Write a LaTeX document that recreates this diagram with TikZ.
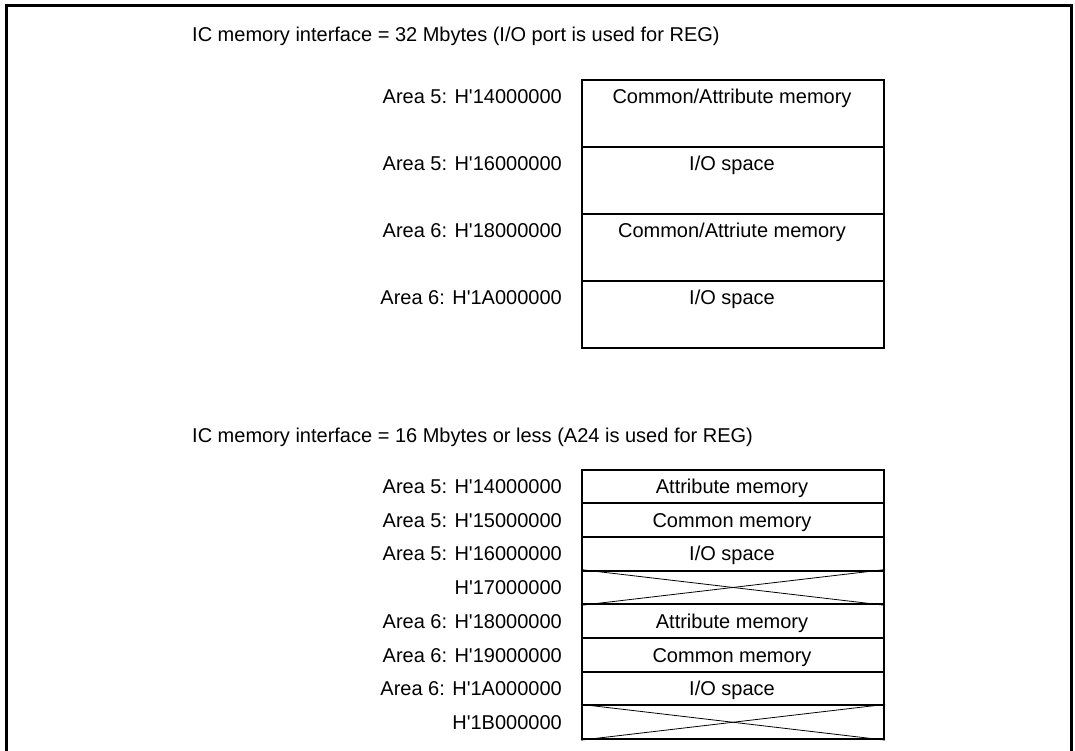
\documentclass[tikz,border=0pt]{standalone}
\usepackage{fontspec}
\setmainfont{Liberation Sans}
\newcommand{\hq}{H\textquotesingle}
\begin{document}
\begin{tikzpicture}[x=1pt,y=-1pt,
  every node/.style={font=\fontsize{20}{24}\selectfont, inner sep=0pt},
  frameline/.style={line width=3pt},
  bigcell/.style={draw, line width=2pt, minimum width=302pt, minimum height=67pt, anchor=north west},
  smallcell/.style={draw, line width=2pt, minimum width=302pt, minimum height=33.7pt, anchor=north west},
  celltext/.style={anchor=base},
  addr/.style={anchor=base east},
  title/.style={anchor=base west},
  xline/.style={line width=0.8pt}
]
\useasboundingbox (0,0) rectangle (1075,751);
% outer frame
\coordinate (fbl) at (6,760);
\coordinate (ftl) at (6,5.5);
\coordinate (ftr) at (1071,5.5);
\coordinate (fbr) at (1071,760);
\draw[frameline] (fbl) -- (ftl) -- (ftr) -- (fbr);

% titles
\node[title] (title1) at (192,42) {IC memory interface = 32 Mbytes (I/O port is used for REG)};
\node[title] (title2) at (192,442) {IC memory interface = 16 Mbytes or less (A24 is used for REG)};

% upper map
\node[bigcell] (u1) at (581,79) {};
\node[bigcell] (u2) at (581,146) {};
\node[bigcell] (u3) at (581,213) {};
\node[bigcell] (u4) at (581,280) {};
\node[celltext] (ut1) at (732,103.5) {Common/Attribute memory};
\node[celltext] (ut2) at (732,170.5) {I/O space};
\node[celltext] (ut3) at (732,237.5) {Common/Attriute memory};
\node[celltext] (ut4) at (732,304.5) {I/O space};
\node[addr] (ua1) at (562,103.5) {Area 5: \hq14000000};
\node[addr] (ua2) at (562,170.5) {Area 5: \hq16000000};
\node[addr] (ua3) at (562,237.5) {Area 6: \hq18000000};
\node[addr] (ua4) at (562,304.5) {Area 6: \hq1A000000};

% lower map
\foreach \i/\t/\a in {
  0/{Attribute memory}/{Area 5: \hq14000000},
  1/{Common memory}/{Area 5: \hq15000000},
  2/{I/O space}/{Area 5: \hq16000000},
  3/{}/{\hq17000000},
  4/{Attribute memory}/{Area 6: \hq18000000},
  5/{Common memory}/{Area 6: \hq19000000},
  6/{I/O space}/{Area 6: \hq1A000000},
  7/{}/{\hq1B000000}}{
  \pgfmathsetmacro{\top}{468.5+33.7*\i}
  \node[smallcell] (l\i) at (581,\top) {};
  \node[celltext] (lt\i) at (732,\top+25) {\t};
  \node[addr] (la\i) at (562,\top+25) {\a};
}
\draw[xline] (l3.north west) -- (l3.south east);
\draw[xline] (l3.south west) -- (l3.north east);
\draw[xline] (l7.north west) -- (l7.south east);
\draw[xline] (l7.south west) -- (l7.north east);
\end{tikzpicture}
\end{document}
